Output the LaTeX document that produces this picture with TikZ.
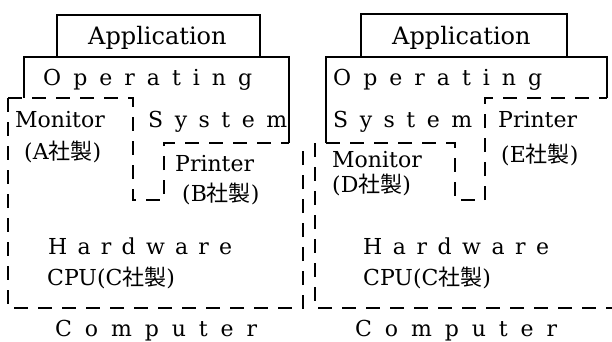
\documentclass[tikz,border=0pt]{standalone}
\usepackage{fontspec}
\setmainfont{DejaVu Serif}
\newfontfamily\cjk{Noto Sans CJK JP}
\makeatletter
\def\spr@loop#1{\ifx#1\relax\else\hfill#1\expandafter\spr@loop\fi}
\def\spr@first#1{#1\spr@loop}
\newcommand\spread[2]{\makebox[#1][s]{\spr@first#2\relax}}
\makeatother
\begin{document}
\begin{tikzpicture}[x=1pt,y=-1pt,
  txt/.style={anchor=base west, inner sep=0pt, font=\fontsize{22}{26}\selectfont},
  apptxt/.style={txt, font=\fontsize{24}{28}\selectfont},
  appbox/.style={line width=1.1pt},
  osline/.style={line width=1.8pt},
  dashline/.style={line width=2.2pt, dash pattern=on 14pt off 10pt},
]
\useasboundingbox (0,0) rectangle (612,342);

% ---------- left computer ----------
\draw[appbox] (57,57) -- (57,15) -- (260,15) -- (260,57);
\draw[osline] (24,98) -- (24,57) -- (289,57) -- (289,143);
\draw[dashline] (8,98) -- (133,98) -- (133,200) -- (164,200) -- (164,143) -- (289,143);
\draw[dashline] (8,98) -- (8,308) -- (303,308) -- (303,143);

\node[apptxt] (appL) at (88,45) {Application};
\node[txt] (opL) at (43,85) {\spread{209pt}{Operating}};
\node[txt] (monA) at (15,127) {Monitor};
\node[txt] (sysL) at (148,127) {\spread{139pt}{System}};
\node[txt] (monAm) at (24,159) {(A{\cjk 社製})};
\node[txt] (prnB) at (175,171) {Printer};
\node[txt] (prnBm) at (182,201) {(B{\cjk 社製})};
\node[txt] (hwL) at (48,254) {\spread{184pt}{Hardware}};
\node[txt] (cpuL) at (47,285) {CPU(C{\cjk 社製})};
\node[txt] (compL) at (55,336) {\spread{202pt}{Computer}};

% ---------- right computer ----------
\draw[appbox] (361,57) -- (361,14) -- (567,14) -- (567,57);
\draw[osline] (326,143) -- (326,57) -- (607,57) -- (607,98);
\draw[dashline] (326,143) -- (455,143) -- (455,200) -- (485,200) -- (485,98) -- (607,98);
\draw[dashline] (315,143) -- (315,308) -- (612,308);

\node[apptxt] (appR) at (392,45) {Application};
\node[txt] (opR) at (333,85) {\spread{209pt}{Operating}};
\node[txt] (sysR) at (333,127) {\spread{139pt}{System}};
\node[txt] (prnE) at (498,127) {Printer};
\node[txt] (prnEm) at (501,162) {(E{\cjk 社製})};
\node[txt] (monD) at (332,167) {Monitor};
\node[txt] (monDm) at (332,192) {(D{\cjk 社製})};
\node[txt] (hwR) at (363,254) {\spread{186pt}{Hardware}};
\node[txt] (cpuR) at (363,285) {CPU(C{\cjk 社製})};
\node[txt] (compR) at (355,336) {\spread{202pt}{Computer}};
\end{tikzpicture}
\end{document}
